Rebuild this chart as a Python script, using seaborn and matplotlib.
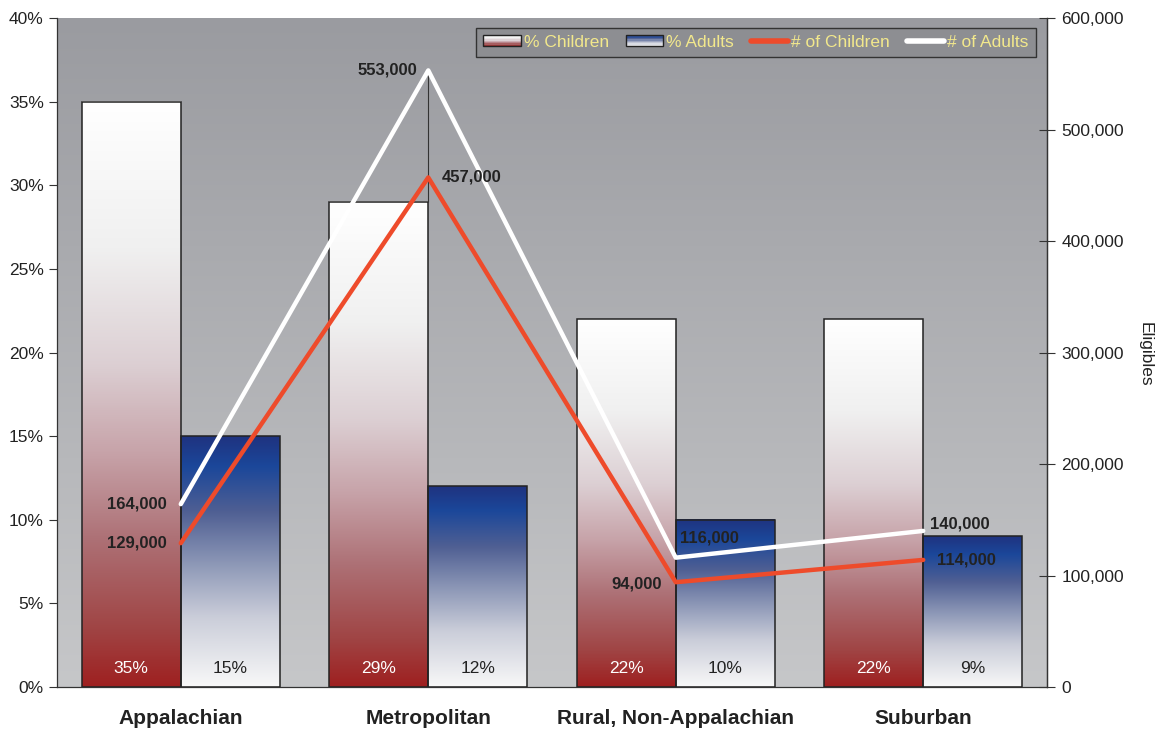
import numpy as np
import pandas as pd
import matplotlib
matplotlib.use("Agg")
import matplotlib.pyplot as plt
from matplotlib.colors import LinearSegmentedColormap
from matplotlib.patches import Rectangle, Patch
from matplotlib.lines import Line2D
from matplotlib.legend_handler import HandlerBase
from matplotlib.ticker import FuncFormatter, FixedLocator
import seaborn as sns

# ---- data ----
regions = ["Appalachian", "Metropolitan", "Rural, Non-Appalachian", "Suburban"]
pct_children = [35, 29, 22, 22]
pct_adults = [15, 12, 10, 9]
num_children = [129000, 457000, 94000, 114000]
num_adults = [164000, 553000, 116000, 140000]

sns.set_style("white")
plt.rcParams["font.family"] = ["Liberation Sans", "DejaVu Sans"]

TXT = "#222222"
children_cmap = LinearSegmentedColormap.from_list(
    "children",
    [(0.0, "#ffffff"), (0.25, "#f0f0f0"), (0.45, "#dccfd3"), (0.6, "#c7a3a9"),
     (0.75, "#ad7075"), (0.9, "#a04545"), (1.0, "#9e2020")])
adults_cmap = LinearSegmentedColormap.from_list(
    "adults",
    [(0.0, "#1f3380"), (0.12, "#1b479a"), (0.3, "#4f5f93"), (0.5, "#8a95b5"),
     (0.72, "#cacdd9"), (1.0, "#f8f8f8")])
bg_cmap = LinearSegmentedColormap.from_list("bg", ["#9a9ba0", "#c6c7c9"])

df = pd.DataFrame({
    "Region": regions * 2,
    "Group": ["% Children"] * 4 + ["% Adults"] * 4,
    "Pct": pct_children + pct_adults,
})

fig = plt.figure(figsize=(11.57, 7.29), dpi=100)
ax = fig.add_axes([0.0493, 0.0576, 0.8556, 0.9177])

sns.barplot(data=df, x="Region", y="Pct", hue="Group", order=regions,
            hue_order=["% Children", "% Adults"], width=0.8, ax=ax,
            edgecolor="#222222", linewidth=1.1, legend=False)

ax.set_xlim(-0.5, 3.5)
ax.set_ylim(0, 40)

# gradient background of the plotting area
bg = np.linspace(0, 1, 256).reshape(-1, 1)
ax.imshow(bg, cmap=bg_cmap, aspect="auto", extent=[-0.5, 3.5, 0, 40],
          origin="upper", zorder=0)

# gradient fill for every bar, stretched to that bar's own height
grad = np.linspace(0, 1, 256).reshape(-1, 1)
bars = [p for p in ax.patches if isinstance(p, Rectangle) and p.get_height() > 0]
for bar in bars:
    x0, w, h = bar.get_x(), bar.get_width(), bar.get_height()
    cmap = children_cmap if x0 + w / 2 < round(x0 + w / 2) else adults_cmap
    ax.imshow(grad, cmap=cmap, aspect="auto", origin="upper",
              extent=[x0, x0 + w, 0, h], zorder=2)
    bar.set_facecolor("none")
    bar.set_zorder(3)
ax.set_xlim(-0.5, 3.5)
ax.set_ylim(0, 40)

# percentage labels at the foot of each bar
for i in range(len(regions)):
    ax.annotate(f"{pct_children[i]}%", (i - 0.2, 0), xytext=(0, 13),
                textcoords="offset points", ha="center", va="center",
                color="white", fontsize=12.5, zorder=5)
    ax.annotate(f"{pct_adults[i]}%", (i + 0.2, 0), xytext=(0, 13),
                textcoords="offset points", ha="center", va="center",
                color=TXT, fontsize=12.5, zorder=5)

# axes styling
ax.set_xlabel("")
ax.set_ylabel("")
ax.yaxis.set_major_locator(FixedLocator(np.arange(0, 41, 5)))
ax.yaxis.set_major_formatter(FuncFormatter(lambda v, p: f"{v:.0f}%"))
ax.tick_params(axis="y", direction="out", length=5.5, width=0.8,
               color="#333333", labelcolor=TXT, labelsize=12.5, left=True,
               pad=4)
ax.set_xticks(range(len(regions)))
ax.set_xticklabels(regions, fontsize=15, fontweight="bold", color=TXT)
ax.tick_params(axis="x", which="major", length=0, pad=16)
ax.set_xticks(np.arange(-0.5, 4, 1), minor=True)
ax.tick_params(axis="x", which="minor", direction="out", length=7,
               width=0.8, color="#333333")
ax.spines["top"].set_visible(False)
for s in ["left", "bottom", "right"]:
    ax.spines[s].set_color("#333333")
    ax.spines[s].set_linewidth(0.9)
    ax.spines[s].set_zorder(6)

# secondary axis with the head counts
ax2 = ax.twinx()
ax2.set_ylim(0, 600000)
idx = np.arange(len(regions))
ax2.vlines(1, pct_children[1] / 40 * 600000, num_adults[1], color="#333333",
           linewidth=0.8, zorder=3)
sns.lineplot(x=idx, y=num_children, ax=ax2, color="#ee4b2b", linewidth=3.2,
             zorder=4)
sns.lineplot(x=idx, y=num_adults, ax=ax2, color="white", linewidth=3.2,
             zorder=4)
ax2.set_xlim(-0.5, 3.5)
ax2.yaxis.set_major_locator(FixedLocator(np.arange(0, 600001, 100000)))
ax2.yaxis.set_major_formatter(FuncFormatter(lambda v, p: f"{v:,.0f}"))
ax2.tick_params(axis="y", direction="inout", length=11, width=0.8,
                color="#333333", labelcolor=TXT, labelsize=12.5, pad=5)
ax2.set_ylabel("")
fig.text(1145 / 1157, 1 - 354 / 729, "Eligibles", rotation=270,
         ha="center", va="center", fontsize=12.5, color=TXT)
for s in ["top", "left", "bottom"]:
    ax2.spines[s].set_visible(False)
ax2.spines["right"].set_color("#333333")
ax2.spines["right"].set_linewidth(0.9)

# value labels next to the line vertices
child_offsets = [(-10, 0, "right", "center"), (10, 0, "left", "center"),
                 (-10, -1, "right", "center"), (10, 0, "left", "center")]
adult_offsets = [(-10, 0, "right", "center"), (-8, 0, "right", "center"),
                 (3, 14, "left", "center"), (5, 5, "left", "center")]
for i in range(len(regions)):
    dx, dy, ha, va = child_offsets[i]
    ax2.annotate(f"{num_children[i]:,}", (i, num_children[i]), xytext=(dx, dy),
                 textcoords="offset points", ha=ha, va=va, fontsize=12,
                 fontweight="bold", color=TXT, zorder=6)
    dx, dy, ha, va = adult_offsets[i]
    ax2.annotate(f"{num_adults[i]:,}", (i, num_adults[i]), xytext=(dx, dy),
                 textcoords="offset points", ha=ha, va=va, fontsize=12,
                 fontweight="bold", color=TXT, zorder=6)


class GradientPatchHandler(HandlerBase):
    def __init__(self, cmap):
        super().__init__()
        self.cmap = cmap

    def create_artists(self, legend, orig_handle, xdescent, ydescent,
                       width, height, fontsize, trans):
        arts = []
        n = 8
        for k in range(n):
            y = -ydescent + height * (n - 1 - k) / n
            r = Rectangle((-xdescent, y), width, height / n,
                          facecolor=self.cmap((k + 0.5) / n),
                          edgecolor="none", transform=trans)
            arts.append(r)
        arts.append(Rectangle((-xdescent, -ydescent), width, height,
                              facecolor="none", edgecolor="#222222",
                              linewidth=1.0, transform=trans))
        return arts


h_child = Patch(label="% Children")
h_adult = Patch(label="% Adults")
h_nchild = Line2D([], [], color="#ee4b2b", linewidth=4, label="# of Children")
h_nadult = Line2D([], [], color="white", linewidth=4, label="# of Adults")
leg = ax2.legend(handles=[h_child, h_adult, h_nchild, h_nadult],
                 handler_map={h_child: GradientPatchHandler(children_cmap),
                              h_adult: GradientPatchHandler(adults_cmap)},
                 loc="upper right", bbox_to_anchor=(0.9975, 0.9985), ncol=4,
                 fontsize=12.5, frameon=True, fancybox=False,
                 facecolor="#8d8e92", edgecolor="#333333", framealpha=1,
                 handlelength=2.15, handleheight=0.6, handletextpad=0.2,
                 columnspacing=0.95, borderpad=0.4)
leg.get_frame().set_linewidth(1.0)
for t in leg.get_texts():
    t.set_color("#f2e88c")

fig.savefig("out.png", dpi=100)
